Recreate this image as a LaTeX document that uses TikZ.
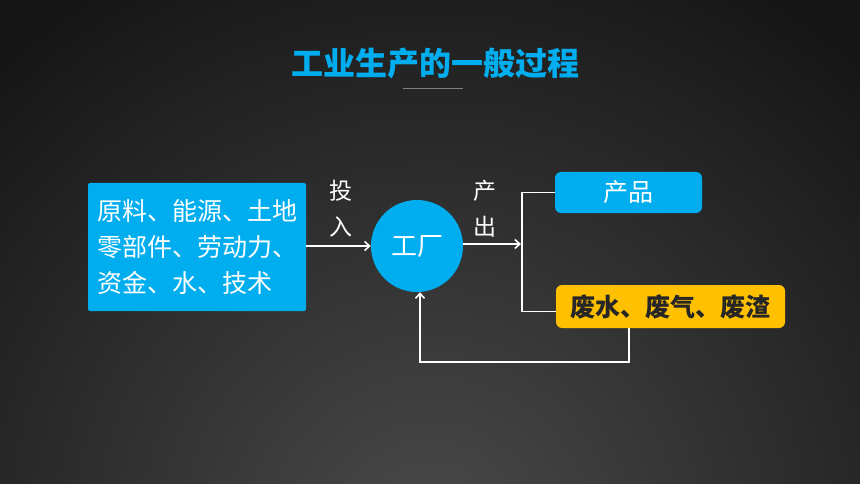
\documentclass[tikz,border=0pt]{standalone}
\usepackage{fontspec}
\setmainfont{Noto Sans CJK SC}
\usetikzlibrary{arrows.meta,positioning}
\definecolor{skyblue}{HTML}{00AEEF}
\definecolor{amber}{HTML}{FFC000}
\definecolor{inkdark}{HTML}{262626}
\definecolor{bgdark}{HTML}{161616}
\definecolor{bglight}{HTML}{4A4A4A}

\begin{document}
\begin{tikzpicture}[x=1pt,y=-1pt,
  bluebox/.style={fill=skyblue,text=white,inner sep=0pt,rounded corners=2pt},
  flow/.style={white,line width=1.6pt,-{Straight Barb[length=5pt,width=9pt]}},
  link/.style={white,line width=1.6pt}
]

% background
\useasboundingbox (0,0) rectangle (860,484);
\fill[bgdark] (0,0) rectangle (860,484);
\begin{scope}
\clip (0,0) rectangle (860,484);
\shade[inner color=bglight,outer color=bgdark] (430,540) circle (640);
\end{scope}

% title
\node[text=skyblue,font=\fontsize{32}{36}\selectfont\bfseries] (title) at (435,63) {工业生产的一般过程};
\draw[gray,line width=1pt] (403,89) -- (463,89);

% nodes
\node[bluebox,minimum width=218,minimum height=128,align=left,
  font=\fontsize{25}{36}\selectfont] (src) at (197,247)
  {原料、能源、土地\\零部件、劳动力、\\资金、水、技术};
\node[circle,fill=skyblue,text=white,minimum size=92,inner sep=0pt,
  font=\fontsize{26}{30}\selectfont] (fab) at (417,246) {工厂};
\node[bluebox,rounded corners=6pt,minimum width=147,minimum height=41,
  font=\fontsize{25}{30}\selectfont] (prod) at (628.5,192.5) {产品};
\node[fill=amber,text=inkdark,rounded corners=6pt,inner sep=0pt,
  minimum width=229,minimum height=43,
  font=\fontsize{25}{30}\selectfont\bfseries] (waste) at (670.5,306.5) {废水、废气、废渣};

% labels
\node[text=white,align=center,font=\fontsize{23}{36}\selectfont] (inlabel) at (341,209) {投\\入};
\node[text=white,align=center,font=\fontsize{23}{36}\selectfont] (outlabel) at (485,209) {产\\出};

% connectors
\coordinate (fork) at (522,244);
\coordinate (back) at (629,362);
\draw[flow] (src.east |- fab) -- (fab.west);
\draw[flow] (fab.east |- fork) -- ([xshift=-1pt]fork);
\draw[link] (prod.west) -| (fork);
\draw[link] ([yshift=-5pt]waste.west) -| (fork);
\draw[flow] (waste.south -| back) |- (back) -| ([xshift=3pt]fab.south);
\end{tikzpicture}
\end{document}
